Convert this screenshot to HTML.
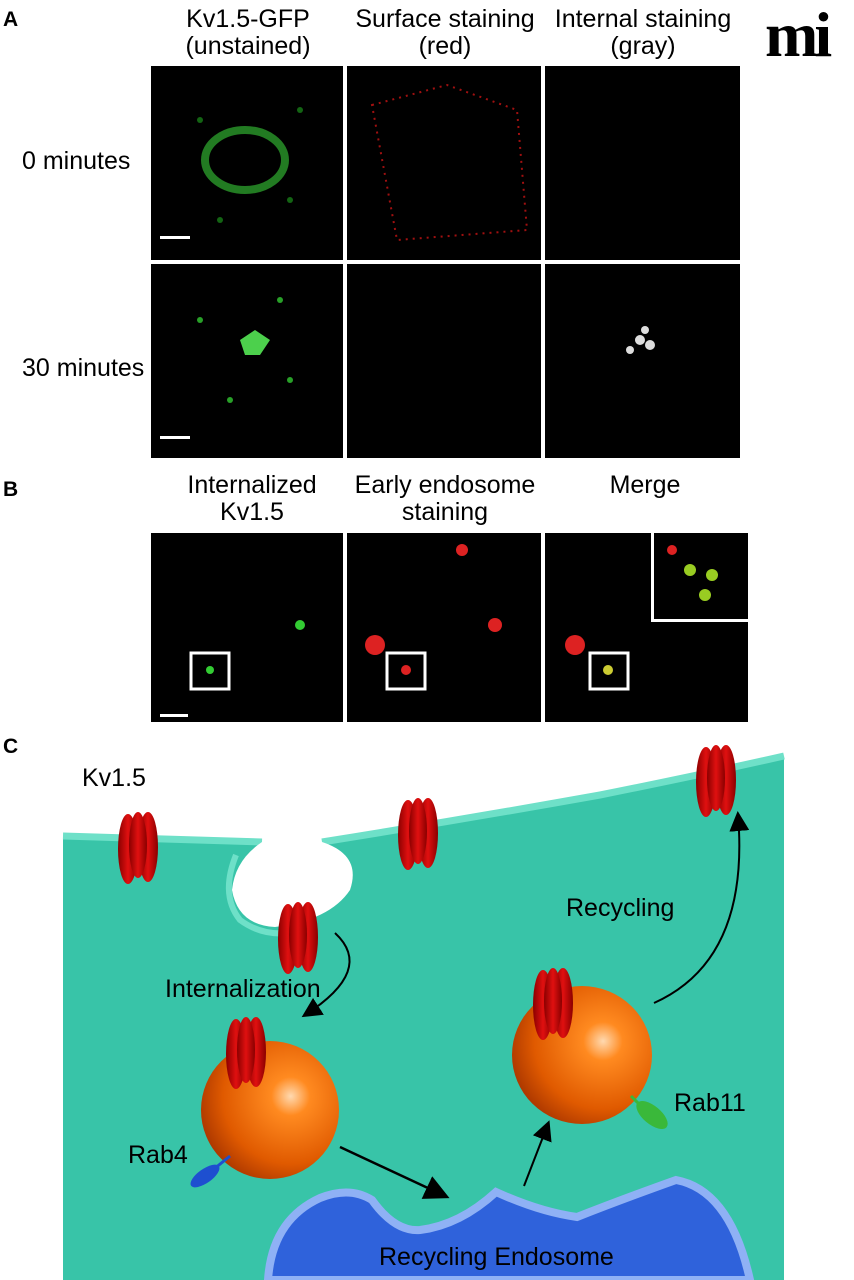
<!DOCTYPE html>
<html><head><meta charset="utf-8"><style>
body{margin:0;width:854px;height:1280px;background:#fff;position:relative;overflow:hidden;font-family:"Liberation Sans",sans-serif;}
.t{position:absolute;font-size:25px;color:#000;white-space:nowrap;}
.c{text-align:center;transform:translateX(-50%);line-height:27px}
.p{position:absolute;background:#000;}
.b{font-weight:bold;font-size:21px}
</style></head><body>
<div class="t b" style="left:3px;top:8px">A</div>
<div class="t c" style="left:248px;top:6px">Kv1.5-GFP<br>(unstained)</div>
<div class="t c" style="left:445px;top:6px">Surface staining<br>(red)</div>
<div class="t c" style="left:643px;top:6px">Internal staining<br>(gray)</div>
<div class="t" style="left:765px;top:-2px;font-size:64px;font-weight:bold;letter-spacing:-4px;font-family:'Liberation Serif',serif">mi</div>
<div class="t" style="left:22px;top:147px">0 minutes</div>
<div class="t" style="left:22px;top:354px">30 minutes</div>
<div class="p" style="left:151px;top:66px;width:192px;height:194px"></div>
<div class="p" style="left:347px;top:66px;width:194px;height:194px"></div>
<div class="p" style="left:545px;top:66px;width:195px;height:194px"></div>
<div class="p" style="left:151px;top:264px;width:192px;height:194px"></div>
<div class="p" style="left:347px;top:264px;width:194px;height:194px"></div>
<div class="p" style="left:545px;top:264px;width:195px;height:194px"></div>
<svg style="position:absolute;left:0;top:0" width="854" height="740">
<ellipse cx="245" cy="160" rx="40" ry="30" fill="none" stroke="#2a9a2a" stroke-width="8" opacity=".8"/>
<g fill="#1b8f1b" opacity=".7"><circle cx="200" cy="120" r="3"/><circle cx="290" cy="200" r="3"/><circle cx="220" cy="220" r="3"/><circle cx="300" cy="110" r="3"/></g>
<path d="M175 105 L250 85 L320 110 L330 230 L200 240 Z" fill="none" stroke="#a01010" stroke-width="2" stroke-dasharray="2 5" transform="translate(197,0)"/>
<path d="M240 340 l15 -10 l15 10 l-10 15 l-15 0z" fill="#4cd04c"/>
<g fill="#28a028"><circle cx="200" cy="320" r="3"/><circle cx="290" cy="380" r="3"/><circle cx="230" cy="400" r="3"/><circle cx="280" cy="300" r="3"/></g>
<g fill="#ddd"><circle cx="640" cy="340" r="5"/><circle cx="650" cy="345" r="5"/><circle cx="630" cy="350" r="4"/><circle cx="645" cy="330" r="4"/></g>
<rect x="160" y="236" width="30" height="3" fill="#fff"/><rect x="160" y="436" width="30" height="3" fill="#fff"/>
</svg>
<div class="t b" style="left:3px;top:478px">B</div>
<div class="t c" style="left:252px;top:472px">Internalized<br>Kv1.5</div>
<div class="t c" style="left:445px;top:472px">Early endosome<br>staining</div>
<div class="t c" style="left:645px;top:472px">Merge</div>
<div class="p" style="left:151px;top:533px;width:192px;height:189px"></div>
<div class="p" style="left:347px;top:533px;width:194px;height:189px"></div>
<div class="p" style="left:545px;top:533px;width:203px;height:189px"></div>
<div class="p" style="left:651px;top:533px;width:97px;height:89px;border-left:3px solid #fff;border-bottom:3px solid #fff;box-sizing:border-box"></div>
<svg style="position:absolute;left:0;top:520px" width="854" height="210">
<rect x="191" y="133" width="38" height="36" fill="none" stroke="#fff" stroke-width="3"/>
<rect x="387" y="133" width="38" height="36" fill="none" stroke="#fff" stroke-width="3"/>
<rect x="590" y="133" width="38" height="36" fill="none" stroke="#fff" stroke-width="3"/>
<g fill="#3c3"><circle cx="210" cy="150" r="4"/><circle cx="300" cy="105" r="5"/></g>
<g fill="#d22"><circle cx="375" cy="125" r="10"/><circle cx="495" cy="105" r="7"/><circle cx="462" cy="30" r="6"/><circle cx="575" cy="125" r="10"/><circle cx="406" cy="150" r="5"/></g>
<circle cx="608" cy="150" r="5" fill="#cc3"/>
<g fill="#9c2"><circle cx="705" cy="75" r="6"/><circle cx="690" cy="50" r="6"/><circle cx="712" cy="55" r="6"/></g><circle cx="672" cy="30" r="5" fill="#d22"/>
<rect x="160" y="194" width="28" height="3" fill="#fff"/>
</svg>
<div class="t b" style="left:3px;top:735px">C</div>
<svg style="position:absolute;left:0;top:720px" width="854" height="560">
<defs>
<radialGradient id="o" cx="0.65" cy="0.4" r="0.7"><stop offset="0" stop-color="#ffd9b0"/><stop offset="0.2" stop-color="#ff8a20"/><stop offset="0.7" stop-color="#e05a00"/><stop offset="1" stop-color="#a83500"/></radialGradient>
<linearGradient id="r" x1="0" x2="1"><stop offset="0" stop-color="#8a0000"/><stop offset=".5" stop-color="#e01010"/><stop offset="1" stop-color="#8a0000"/></linearGradient>
<marker id="a" markerWidth="10" markerHeight="10" refX="8" refY="5" orient="auto"><path d="M0 0 L10 5 L0 10 Z" fill="#000"/></marker>
<g id="k"><ellipse cx="-10" cy="0" rx="10" ry="35" fill="url(#r)"/><ellipse cx="10" cy="-2" rx="10" ry="35" fill="url(#r)"/><ellipse cx="0" cy="-4" rx="9" ry="33" fill="url(#r)"/></g>
</defs>
<path d="M63 116 L262 122 L322 122 Q460 100 600 75 Q700 55 784 36 L784 560 L63 560 Z" fill="#38c4a8"/>
<path d="M63 116 L262 122 M322 122 Q460 100 600 75 Q700 55 784 36" fill="none" stroke="#6ee0c8" stroke-width="7"/>
<path d="M262 122 Q235 140 232 170 Q238 205 275 207 Q330 200 350 170 Q362 135 322 122 Z" fill="#fff"/>
<path d="M236 135 Q220 175 240 200 Q270 222 310 208" fill="none" stroke="#6ee0c8" stroke-width="6"/>
<use href="#k" x="138" y="129"/><use href="#k" x="418" y="115"/><use href="#k" x="716" y="62"/><use href="#k" x="298" y="219"/>
<path d="M335 213 Q375 250 305 295" fill="none" stroke="#000" stroke-width="2" marker-end="url(#a)"/>
<ellipse cx="582" cy="335" rx="70" ry="69" fill="url(#o)"/>
<use href="#k" x="553" y="285"/>
<ellipse cx="270" cy="390" rx="69" ry="69" fill="url(#o)"/>
<use href="#k" x="246" y="334"/>
<path d="M654 283 Q750 240 738 95" fill="none" stroke="#000" stroke-width="2" marker-end="url(#a)"/>
<path d="M340 427 L445 476" stroke="#000" stroke-width="2.5" marker-end="url(#a)"/>
<path d="M524 466 L548 404" stroke="#000" stroke-width="2" marker-end="url(#a)"/>
<ellipse cx="205" cy="456" rx="7" ry="17" transform="rotate(55 205 456)" fill="#1e4fd0"/>
<path d="M214 449 L230 436" stroke="#1e4fd0" stroke-width="3"/>
<ellipse cx="652" cy="395" rx="9" ry="19" transform="rotate(-50 652 395)" fill="#3ab83a"/>
<path d="M640 385 L631 376" stroke="#3ab83a" stroke-width="3"/>
<path d="M268 560 Q272 500 320 478 Q350 466 372 480 Q395 512 420 510 Q460 505 496 472 Q540 492 577 497 Q620 480 676 460 Q730 470 750 560 Z" fill="#2f62db" stroke="#8fb1f5" stroke-width="8"/>
<g font-size="25" font-family="Liberation Sans">
<text x="82" y="66">Kv1.5</text>
<text x="165" y="277">Internalization</text>
<text x="566" y="196">Recycling</text>
<text x="128" y="443">Rab4</text>
<text x="674" y="391">Rab11</text>
<text x="379" y="545">Recycling Endosome</text>
</g>
</svg>
</body></html>
